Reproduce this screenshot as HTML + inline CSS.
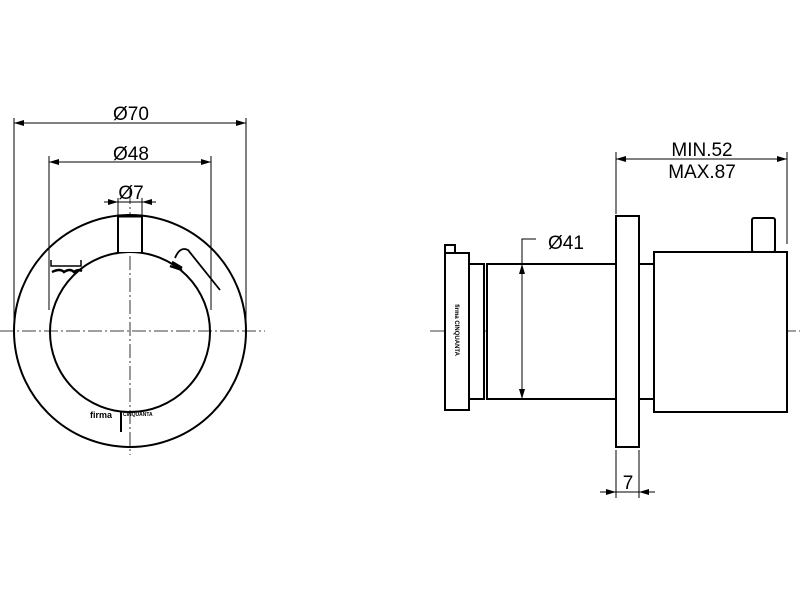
<!DOCTYPE html>
<html><head><style>body{margin:0;background:#fff}svg{display:block}</style></head>
<body>
<svg width="800" height="600" viewBox="0 0 800 600" xmlns="http://www.w3.org/2000/svg" font-family="Liberation Sans, sans-serif">
<defs>
<marker id="a" viewBox="0 0 10 6" refX="10" refY="3" markerWidth="10" markerHeight="6" orient="auto-start-reverse" markerUnits="userSpaceOnUse"><path d="M0,0 L10,3 L0,6 z" fill="#000"/></marker>
</defs>
<g stroke="#000" fill="none">
<g stroke-width="0.8" stroke-dasharray="14,3,2,3">
<line x1="0" y1="331" x2="265" y2="331"/>
<line x1="130" y1="190" x2="130" y2="455"/>
<line x1="430" y1="331" x2="800" y2="331"/>
</g>
<circle cx="130" cy="331" r="116" stroke-width="2"/>
<circle cx="130" cy="332" r="80" stroke-width="2"/>
<path d="M118,252 V216 H142 V252" stroke-width="2" fill="#fff"/>
<line x1="118" y1="216" x2="142" y2="216" stroke-width="3"/>
<path d="M175,258 Q180,246 188,250 L220,290" stroke-width="1.8"/>
<path d="M172,262 l10,6 M170,266 l12,4" stroke-width="2.5"/>
<path d="M51,260 v6 h30 v-6" stroke-width="1.5"/>
<path d="M52,272 q8,-4 12,0 q6,-4 10,0 q4,-3 8,-1" stroke-width="2.5"/>
<line x1="121" y1="412" x2="121" y2="432" stroke-width="2"/>
<g stroke-width="1">
<line x1="14" y1="118" x2="14" y2="331"/>
<line x1="246" y1="118" x2="246" y2="331"/>
<line x1="14" y1="123" x2="246" y2="123" marker-start="url(#a)" marker-end="url(#a)"/>
<line x1="49" y1="156" x2="49" y2="310"/>
<line x1="211" y1="156" x2="211" y2="310"/>
<line x1="49" y1="162" x2="211" y2="162" marker-start="url(#a)" marker-end="url(#a)"/>
<line x1="118" y1="198" x2="118" y2="216"/>
<line x1="142" y1="198" x2="142" y2="216"/>
<line x1="104" y1="202" x2="118" y2="202" marker-end="url(#a)"/>
<line x1="156" y1="202" x2="142" y2="202" marker-end="url(#a)"/>
<line x1="118" y1="202" x2="142" y2="202"/>
</g>
<g stroke-width="2" fill="#fff">
<rect x="445" y="245" width="10" height="8"/>
<rect x="445" y="253" width="24" height="157"/>
<rect x="469" y="264" width="15" height="135"/>
<rect x="487" y="264" width="129" height="135"/>
<rect x="639" y="264" width="15" height="135"/>
<rect x="616" y="216" width="23" height="231"/>
<rect x="654" y="252" width="133" height="160"/>
<rect x="752" y="218" width="23" height="34" rx="2"/>
</g>
<g stroke-width="1">
<line x1="616" y1="152" x2="616" y2="214"/>
<line x1="787" y1="152" x2="787" y2="244"/>
<line x1="616" y1="159" x2="787" y2="159" marker-start="url(#a)" marker-end="url(#a)"/>
<line x1="522" y1="264" x2="522" y2="399" marker-start="url(#a)" marker-end="url(#a)"/>
<polyline points="522,264 522,239 536,239"/>
<line x1="616" y1="450" x2="616" y2="498"/>
<line x1="639" y1="450" x2="639" y2="498"/>
<line x1="600" y1="492" x2="616" y2="492" marker-end="url(#a)"/>
<line x1="655" y1="492" x2="639" y2="492" marker-end="url(#a)"/>
<line x1="616" y1="492" x2="639" y2="492"/>
</g>
</g>
<g font-size="19" fill="#000" text-anchor="middle">
<text x="131" y="120">Ø70</text>
<text x="131" y="160">Ø48</text>
<text x="131" y="199">Ø7</text>
<text x="702" y="156">MIN.52</text>
<text x="702" y="178">MAX.87</text>
<text x="566" y="249">Ø41</text>
<text x="628" y="489">7</text>
</g>
<text x="90" y="418" font-size="9" font-weight="bold">firma</text>
<text x="123" y="416" font-size="5" font-weight="bold">CINQUANTA</text>
<text transform="translate(455,330) rotate(90)" font-size="6" font-weight="bold" text-anchor="middle">firma CINQUANTA</text>
</svg>
</body></html>
